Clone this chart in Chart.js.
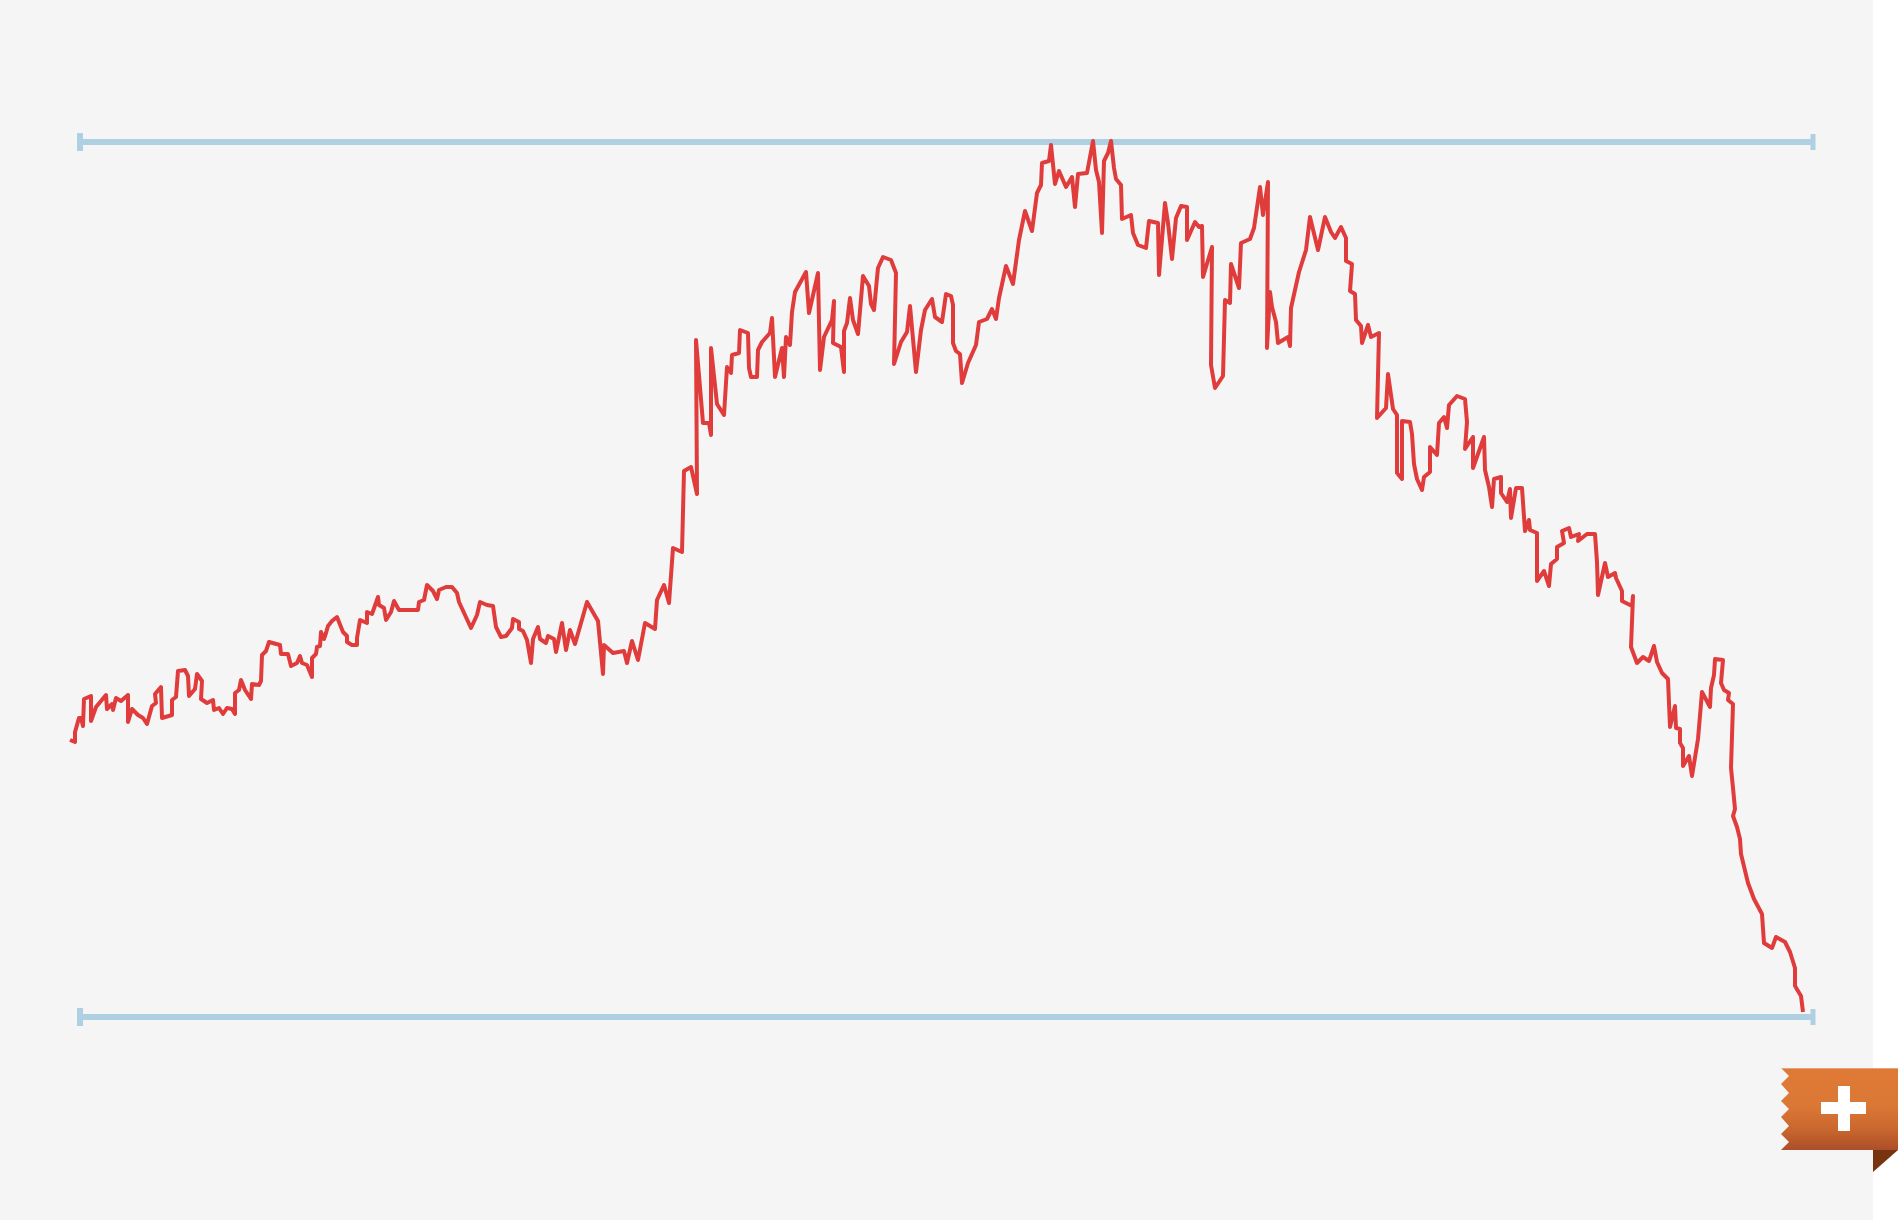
<!DOCTYPE html>
<html>
<head>
<meta charset="utf-8">
<title>Chart</title>
<script src="https://cdn.jsdelivr.net/npm/chart.js@4"></script>
<style>
    html, body { margin: 0; padding: 0; background: #fff; overflow: hidden; }
    #panel { position: absolute; left: 0; top: 0; width: 1873px; height: 1220px; background: #f5f5f5; }
    #myChart { position: absolute; left: 0; top: 0; }
    #ribbon {
        position: absolute; left: 1781px; top: 1068px; width: 117px; height: 82px;
        background: linear-gradient(#e6a27a 0, #e6a27a 1px, #de7a36 1px, #dc7835 45%, #c9672f 75%, #ab4e2a 100%);
        clip-path: polygon(0 0, 100% 0, 100% 100%, 0 100%, 8px 74px, 0 66px, 8px 58px, 0 49px, 8px 41px, 0 33px, 8px 25px, 0 16px, 8px 8px);
    }
    #fold {
        position: absolute; left: 1873px; top: 1150px; width: 25px; height: 22px;
        background: #78340f; clip-path: polygon(0 0, 100% 0, 0 100%);
    }
    #plusH { position: absolute; left: 1821px; top: 1102px; width: 45px; height: 12px; background: #fff; }
    #plusV { position: absolute; left: 1838px; top: 1086px; width: 12px; height: 45px; background: #fff; }
</style>
</head>
<body>
<div id="panel"></div>
<canvas id="myChart" width="1898" height="1220"></canvas>
<div id="ribbon"></div>
<div id="fold"></div>
<div id="plusH"></div>
<div id="plusV"></div>
<script>
// Nilai
const lineX = [
    0, 5, 5, 9, 11, 13, 14, 21, 21, 26, 36, 37, 42, 43, 46, 51, 58, 58, 62, 68,
    73, 77, 82, 86, 85, 91, 92, 102, 102, 106, 108, 115, 118, 119, 125, 127, 132, 131, 137, 143,
    144, 149, 153, 157, 162, 165, 165, 169, 171, 175, 181, 182, 189, 191, 192, 196, 199, 210, 211, 218,
    221, 227, 230, 232, 237, 242, 242, 246, 247, 250, 251, 254, 256, 258, 262, 267, 273, 277, 277, 282,
    287, 287, 290, 297, 297, 302, 308, 309, 314, 316, 321, 324, 329, 348, 349, 354, 357, 363, 367, 369,
    376, 382, 387, 389, 401, 407, 410, 417, 423, 426, 431, 436, 442, 443, 449, 449, 453, 457, 461, 463,
    468, 470, 476, 478, 484, 486, 492, 496, 500, 505, 517, 528, 533, 534, 543, 554, 557, 562, 568, 575,
    585, 587, 594, 599, 603, 612, 614, 621, 627, 626, 633, 639, 641, 641, 647, 654, 657, 661, 662, 669,
    670, 678, 679, 681, 687, 688, 692, 700, 702, 705, 712, 714, 716, 720, 722, 725, 736, 739, 748, 750,
    754, 762, 764, 763, 771, 774, 774, 777, 780, 783, 788, 793, 799, 801, 804, 807, 808, 813, 821, 826,
    824, 831, 837, 840, 846, 851, 855, 862, 865, 872, 876, 881, 883, 883, 886, 890, 892, 898, 906, 909,
    917, 922, 926, 929, 936, 943, 949, 955, 962, 967, 971, 972, 979, 981, 985, 989, 996, 1002, 1005, 1008,
    1017, 1023, 1026, 1029, 1032, 1034, 1038, 1041, 1044, 1046, 1051, 1052, 1061, 1063, 1068, 1076, 1079, 1088, 1089, 1095,
    1098, 1102, 1106, 1111, 1117, 1117, 1125, 1129, 1132, 1133, 1142, 1141, 1145, 1153, 1155, 1160, 1161, 1169, 1171, 1180,
    1184, 1190, 1193, 1198, 1197, 1200, 1202, 1206, 1208, 1218, 1220, 1221, 1229, 1236, 1240, 1248, 1255, 1261, 1265, 1271,
    1276, 1276, 1282, 1280, 1285, 1286, 1291, 1292, 1298, 1301, 1309, 1307, 1316, 1318, 1323, 1327, 1327, 1332, 1332, 1340,
    1342, 1344, 1347, 1352, 1354, 1360, 1360, 1367, 1369, 1374, 1377, 1379, 1387, 1395, 1397, 1395, 1403, 1403, 1414, 1415,
    1419, 1422, 1424, 1431, 1431, 1437, 1440, 1441, 1446, 1452, 1455, 1459, 1460, 1467, 1467, 1474, 1479, 1481, 1487, 1487,
    1494, 1492, 1499, 1501, 1509, 1508, 1517, 1525, 1527, 1528, 1535, 1538, 1545, 1546, 1552, 1552, 1562, 1563, 1561, 1567,
    1573, 1579, 1584, 1587, 1592, 1598, 1600, 1605, 1606, 1610, 1610, 1613, 1613, 1619, 1622, 1628, 1632, 1640, 1641, 1644,
    1645, 1653, 1651, 1654, 1659, 1658, 1663, 1661, 1663, 1665, 1663, 1667, 1670, 1671, 1678, 1684, 1692, 1694, 1702, 1706,
    1715, 1720, 1725, 1725, 1731, 1733
];
const lineY = [
    277, 275, 285, 299, 299, 291, 318, 321, 296, 310, 322, 308, 313, 307, 319, 316, 322, 295, 308, 302,
    299, 293, 311, 314, 323, 330, 299, 302, 317, 320, 346, 347, 341, 321, 328, 343, 336, 318, 314, 317,
    307, 309, 303, 309, 308, 303, 324, 327, 337, 327, 318, 333, 332, 336, 362, 366, 375, 372, 363, 363,
    351, 354, 361, 354, 352, 340, 359, 363, 370, 371, 385, 378, 384, 391, 396, 400, 385, 381, 375, 372,
    372, 379, 397, 394, 405, 403, 420, 412, 409, 397, 405, 416, 407, 407, 415, 417, 432, 426, 418, 427,
    430, 430, 424, 415, 389, 402, 415, 412, 411, 390, 380, 381, 389, 398, 395, 388, 386, 377, 354, 378,
    390, 378, 374, 381, 378, 365, 394, 367, 387, 373, 415, 396, 343, 372, 364, 366, 354, 376, 357, 394,
    388, 417, 432, 414, 469, 465, 546, 550, 523, 677, 594, 594, 582, 669, 613, 602, 650, 644, 662, 664,
    687, 684, 649, 640, 640, 667, 675, 684, 699, 640, 669, 640, 680, 672, 705, 725, 745, 704, 744, 647,
    680, 697, 716, 674, 670, 645, 686, 694, 719, 697, 683, 741, 731, 713, 707, 739, 749, 760, 757, 744,
    653, 675, 685, 711, 645, 687, 707, 718, 700, 695, 723, 721, 712, 674, 666, 663, 634, 654, 672, 695,
    698, 708, 698, 719, 751, 733, 777, 806, 786, 824, 832, 854, 856, 872, 833, 846, 830, 840, 810, 843,
    844, 876, 847, 835, 784, 856, 864, 876, 849, 838, 832, 798, 802, 784, 772, 769, 796, 794, 742, 814,
    794, 758, 799, 811, 810, 777, 795, 790, 791, 740, 770, 652, 629, 641, 717, 714, 753, 729, 774, 778,
    789, 830, 802, 835, 669, 725, 710, 695, 674, 680, 671, 709, 745, 767, 800, 767, 800, 785, 779, 790,
    779, 756, 753, 726, 723, 697, 691, 674, 692, 680, 684, 599, 609, 643, 608, 602, 544, 538, 596, 595,
    583, 553, 538, 527, 540, 545, 570, 562, 594, 600, 589, 612, 621, 618, 595, 568, 580, 549, 580, 547,
    530, 510, 538, 540, 524, 515, 528, 499, 529, 529, 486, 497, 487, 484, 436, 446, 431, 453, 458, 470,
    474, 486, 489, 480, 483, 476, 483, 483, 455, 422, 454, 440, 444, 439, 426, 416, 411, 421, 370, 354,
    360, 356, 371, 355, 344, 338, 290, 311, 289, 288, 274, 269, 251, 261, 241, 278, 325, 310, 329, 342,
    358, 357, 334, 327, 324, 317, 313, 249, 229, 208, 201, 190, 178, 163, 134, 118, 103, 74, 69, 80,
    75, 65, 49, 31, 21, 5
];
const guideX = [10, 1743];
const guideTop = [875, 875];
const guideBottom = [0, 0];

function toPoints(xs, ys) {
    return xs.map((x, i) => ({ x: x, y: ys[i] }));
}

// Garis panduan biru dengan ujung kecil di kiri dan kanan
function guideDataset(ys) {
    return {
        data: toPoints(guideX, ys),
        borderColor: '#aed0e2',
        borderWidth: 6,
        pointStyle: 'line',
        pointRotation: 90,
        pointRadius: [9, 8],
        pointBorderWidth: [6, 5],
        pointBorderColor: '#aed0e2',
        clip: false,
        order: 2
    };
}

const ctx = document.getElementById('myChart').getContext('2d');
const myChart = new Chart(ctx, {
    type: 'line',
    data: {
        datasets: [
            {
                data: toPoints(lineX, lineY),
                borderColor: '#e03c3c',
                borderWidth: 4,
                borderJoinStyle: 'round',
                tension: 0,
                pointRadius: 0,
                clip: false,
                order: 1
            },
            guideDataset(guideTop),
            guideDataset(guideBottom)
        ]
    },
    options: {
        responsive: false,
        animation: false,
        layout: {
            padding: { left: 70, right: 85, top: 142, bottom: 203 }
        },
        scales: {
            x: { type: 'linear', display: false, min: 0, max: 1743 },
            y: { type: 'linear', display: false, min: 0, max: 875 }
        },
        plugins: {
            legend: { display: false },
            tooltip: { enabled: false }
        }
    }
});
</script>
</body>
</html>
